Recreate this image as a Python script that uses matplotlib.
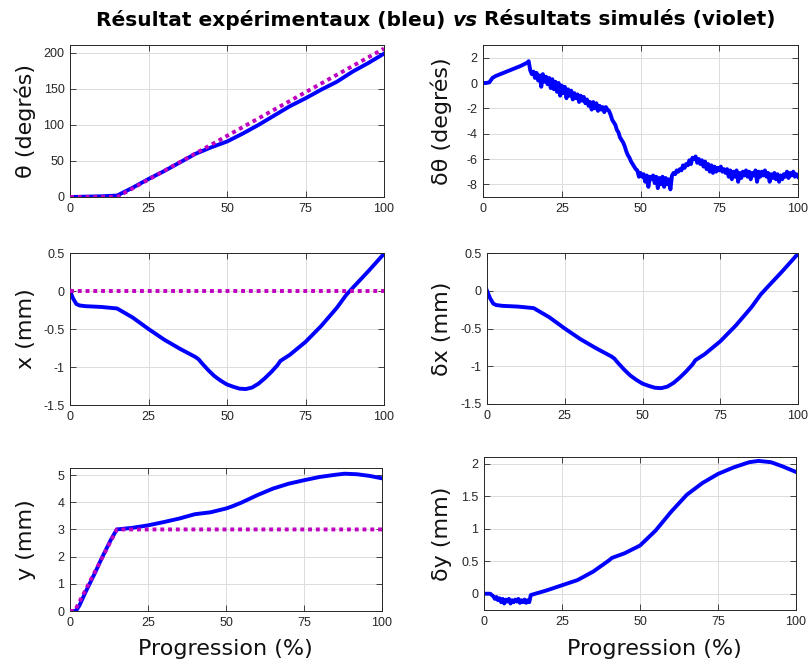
import numpy as np
import matplotlib
matplotlib.use("Agg")
import matplotlib.pyplot as plt

# ---------------- data ----------------
xticks = [0, 25, 50, 75, 100]

# theta (degrees)
theta_exp_x = [0, 5, 10, 15, 20, 25, 30, 35, 40, 45, 50, 55, 60, 65, 70, 75, 80, 85, 90, 95, 100]
theta_exp_y = [0, 0.5, 1, 2, 13, 25, 36, 48, 60, 69, 77, 88, 100, 113, 126, 137, 149, 160, 174, 186, 199]
theta_sim_x = [0, 15, 100]
theta_sim_y = [0, 0, 206]

# delta theta (degrees)
dtheta_head_x = [0, 1, 2, 3, 4, 6, 8, 10, 12, 14, 14.5]
dtheta_head_y = [0, 0, 0.05, 0.4, 0.55, 0.75, 0.95, 1.15, 1.35, 1.6, 1.72]
dtheta_tail_y = [
    1.0, 0.7, 0.9, 0.4, 0.8, 0.2, 0.6, -0.3, 0.7, 0.1,
    0.5, -0.1, 0.4, -0.4, 0.3, -0.5, 0.1, -0.7, 0.0, -1.0,
    -0.2, -0.8, -0.3, -1.2, -0.5, -1.0, -0.6, -1.3, -0.8, -1.2,
    -0.9, -1.5, -1.0, -1.4, -1.1, -1.6, -1.3, -1.8, -1.5, -2.1,
    -1.5, -2.0, -1.6, -2.2, -1.8, -2.1, -1.9, -2.3, -1.9, -2.1,
    -2.2, -2.5, -2.9, -3.1, -3.3, -3.7, -3.9, -4.3, -4.5, -4.7,
    -5.0, -5.4, -5.7, -5.9, -6.2, -6.4, -6.6, -6.8, -6.9, -7.4,
    -7.1, -7.4, -7.2, -7.8, -7.3, -8.2, -7.4, -7.6, -7.3, -7.9,
    -7.4, -8.3, -7.5, -8.0, -7.4, -8.2, -7.5, -8.0, -7.6, -8.4,
    -7.3, -7.1, -7.2, -6.9, -7.0, -6.8, -6.9, -6.5, -6.7, -6.4,
    -6.5, -6.1, -6.4, -5.9, -6.0, -5.8, -6.3, -6.0, -6.4, -6.1,
    -6.6, -6.2, -6.8, -6.4, -7.0, -6.5, -7.1, -6.6, -7.0, -6.7,
    -6.9, -6.6, -7.0, -6.8, -7.1, -6.8, -7.4, -6.9, -7.6, -7.0,
    -7.4, -6.9, -7.8, -7.1, -7.5, -7.0, -7.3, -6.9, -7.4, -7.0,
    -7.6, -7.1, -7.3, -6.9, -7.8, -7.0, -7.4, -7.0, -7.3, -6.9,
    -7.4, -7.1, -7.8, -7.2, -7.5, -7.1, -7.6, -7.2, -7.8, -7.3,
    -7.6, -7.2, -7.4, -7.0, -7.5, -7.1, -7.3, -7.0, -7.4, -7.2,
    -7.4,
]
dtheta_tail_x = list(np.arange(15.0, 100.25, 0.5))

# x (mm)
x_exp_x = [0, 1, 2, 3, 5, 10, 15, 20, 25, 30, 35, 40, 41, 42, 44, 46, 48, 50, 52, 54, 56, 58,
           60, 62, 64, 66, 67, 70, 75, 80, 85, 88, 90, 95, 100]
x_exp_y = [0, -0.1, -0.17, -0.19, -0.2, -0.21, -0.23, -0.35, -0.5, -0.64, -0.76, -0.87, -0.9,
           -0.95, -1.04, -1.12, -1.18, -1.23, -1.26, -1.285, -1.29, -1.27, -1.22, -1.15, -1.07,
           -0.98, -0.92, -0.84, -0.67, -0.46, -0.22, -0.05, 0.04, 0.26, 0.49]
x_sim_x = [0, 100]
x_sim_y = [0, 0]

# y (mm)
y_exp_x = [0, 1.5, 2, 3, 5, 8, 10, 13, 15, 20, 25, 30, 35, 40, 45, 50, 52, 55, 60, 65, 70, 75,
           80, 85, 88, 92, 96, 100]
y_exp_y = [0, 0, 0.02, 0.2, 0.7, 1.4, 1.9, 2.6, 3.0, 3.06, 3.15, 3.27, 3.4, 3.56, 3.63, 3.77,
           3.85, 3.99, 4.26, 4.5, 4.68, 4.81, 4.93, 5.01, 5.05, 5.03, 4.97, 4.88]
y_sim_x = [0, 1.5, 15, 100]
y_sim_y = [0, 0, 3, 3]

# delta y (mm)
dy_x = [0, 1, 2, 3, 3.5, 4, 4.5, 5, 5.5, 6, 6.5, 7, 7.5, 8, 8.5, 9, 9.5, 10, 10.5, 11, 11.5,
        12, 12.5, 13, 13.5, 14, 14.5, 15, 20, 25, 30, 35, 40, 41, 45, 50, 55, 60, 65, 70, 75,
        80, 85, 88, 92, 96, 100]
dy_y = [0, 0, 0, -0.04, -0.08, -0.05, -0.1, -0.07, -0.13, -0.08, -0.15, -0.09, -0.12, -0.08,
        -0.15, -0.1, -0.13, -0.09, -0.12, -0.08, -0.14, -0.1, -0.13, -0.09, -0.14, -0.1, -0.13,
        -0.02, 0.05, 0.13, 0.21, 0.34, 0.51, 0.55, 0.62, 0.74, 0.97, 1.26, 1.52, 1.7, 1.84,
        1.94, 2.02, 2.04, 2.02, 1.95, 1.87]

# ---------------- style ----------------
BLUE = "#0000FF"
MAG = "#C000C0"
LW = 2.8
TICK_FONT = "Liberation Sans"
LABEL_FONT = "DejaVu Sans"

fig = plt.figure(figsize=(8.09, 6.66), dpi=100)
W, H = 809.0, 666.0


def make_ax(left, right, top, bottom):
    return fig.add_axes([left / W, 1 - bottom / H, (right - left) / W, (bottom - top) / H])


def style(ax, ylim, yticks, yticklabels, ylabel, xlabel=None):
    ax.set_xlim(0, 100)
    ax.set_ylim(*ylim)
    ax.set_xticks(xticks)
    ax.set_xticklabels([str(t) for t in xticks], fontfamily=TICK_FONT, fontsize=9, color="#262626")
    ax.set_yticks(yticks)
    ax.set_yticklabels(yticklabels, fontfamily=TICK_FONT, fontsize=9, color="#262626")
    ax.tick_params(direction="in", length=4, width=0.6, top=True, right=True, color="#262626", pad=4)
    ax.grid(True, color="#DCDCDC", linewidth=0.7)
    ax.set_axisbelow(True)
    for s in ax.spines.values():
        s.set_color("#262626")
        s.set_linewidth(0.7)
    ax.set_ylabel(ylabel, fontfamily=LABEL_FONT, fontsize=16, color="#111111")
    if xlabel:
        ax.set_xlabel(xlabel, fontfamily=LABEL_FONT, fontsize=16, color="#111111")


def sim_line(ax, xs, ys):
    ax.plot(xs, ys, color=MAG, linewidth=LW, linestyle=(0, (1, 1)), dash_capstyle="butt", zorder=3)


def exp_line(ax, xs, ys):
    ax.plot(xs, ys, color=BLUE, linewidth=LW, solid_joinstyle="round", zorder=2)


# Panel 1: theta
ax1 = make_ax(70, 384, 45, 197)
exp_line(ax1, theta_exp_x, theta_exp_y)
sim_line(ax1, theta_sim_x, theta_sim_y)
style(ax1, (0, 211), [0, 50, 100, 150, 200], ["0", "50", "100", "150", "200"], "θ (degrés)")

# Panel 2: delta theta
ax2 = make_ax(483, 798, 45, 197)
exp_line(ax2, list(dtheta_head_x) + dtheta_tail_x, list(dtheta_head_y) + dtheta_tail_y)
style(ax2, (-9, 3), [-8, -6, -4, -2, 0, 2], ["-8", "-6", "-4", "-2", "0", "2"], "δθ (degrés)")

# Panel 3: x
ax3 = make_ax(70, 384, 253, 405)
exp_line(ax3, x_exp_x, x_exp_y)
sim_line(ax3, x_sim_x, x_sim_y)
style(ax3, (-1.5, 0.5), [-1.5, -1, -0.5, 0, 0.5], ["-1.5", "-1", "-0.5", "0", "0.5"], "x (mm)")

# Panel 4: delta x
ax4 = make_ax(487, 798, 253, 404)
dx_y = [a - 0.0 for a in x_exp_y]
exp_line(ax4, x_exp_x, dx_y)
style(ax4, (-1.5, 0.5), [-1.5, -1, -0.5, 0, 0.5], ["-1.5", "-1", "-0.5", "0", "0.5"], "δx (mm)")

# Panel 5: y
ax5 = make_ax(70, 382, 468, 611)
exp_line(ax5, y_exp_x, y_exp_y)
sim_line(ax5, y_sim_x, y_sim_y)
style(ax5, (0, 5.26), [0, 1, 2, 3, 4, 5], ["0", "1", "2", "3", "4", "5"], "y (mm)", "Progression (%)")

# Panel 6: delta y
ax6 = make_ax(484, 796, 457, 610)
exp_line(ax6, dy_x, dy_y)
style(ax6, (-0.25, 2.1), [0, 0.5, 1, 1.5, 2], ["0", "0.5", "1", "1.5", "2"], "δy (mm)", "Progression (%)")

# Align ylabels horizontally (pixel anchor positions = right edge of rotated label)
for ax, cx, left, width in ((ax1, 36, 70, 314), (ax3, 36, 70, 314), (ax5, 36, 70, 312),
                            (ax2, 452, 483, 315), (ax4, 452, 487, 311), (ax6, 452, 484, 312)):
    ax.yaxis.set_label_coords((cx - left) / width, 0.5)

# x labels: top of label box at the same pixel height, right one shifted as in reference
for ax, cx, left, width, bottom, height in ((ax5, 225, 70, 312, 611, 143),
                                            (ax6, 654, 484, 312, 610, 153)):
    ax.xaxis.set_label_coords((cx - left) / width, -(639 - bottom) / height)

# Title in pieces (bold, with italic "vs")
parts = [("Résultat expérimentaux (bleu) ", "normal"), ("vs", "italic"),
         (" Résultats simulés (violet)", "normal")]
fig.canvas.draw()
renderer = fig.canvas.get_renderer()
texts = []
for s, st in parts:
    t = fig.text(0, 1 - 20 / H, s, fontsize=14.5, fontweight="bold", style=st,
                 fontfamily=LABEL_FONT, va="center", ha="left", color="black")
    texts.append(t)
widths = [t.get_window_extent(renderer).width for t in texts]
total = sum(widths)
x0 = 436 - total / 2
for t, w in zip(texts, widths):
    t.set_x(x0 / W)
    x0 += w

fig.savefig("out.png", dpi=100)
